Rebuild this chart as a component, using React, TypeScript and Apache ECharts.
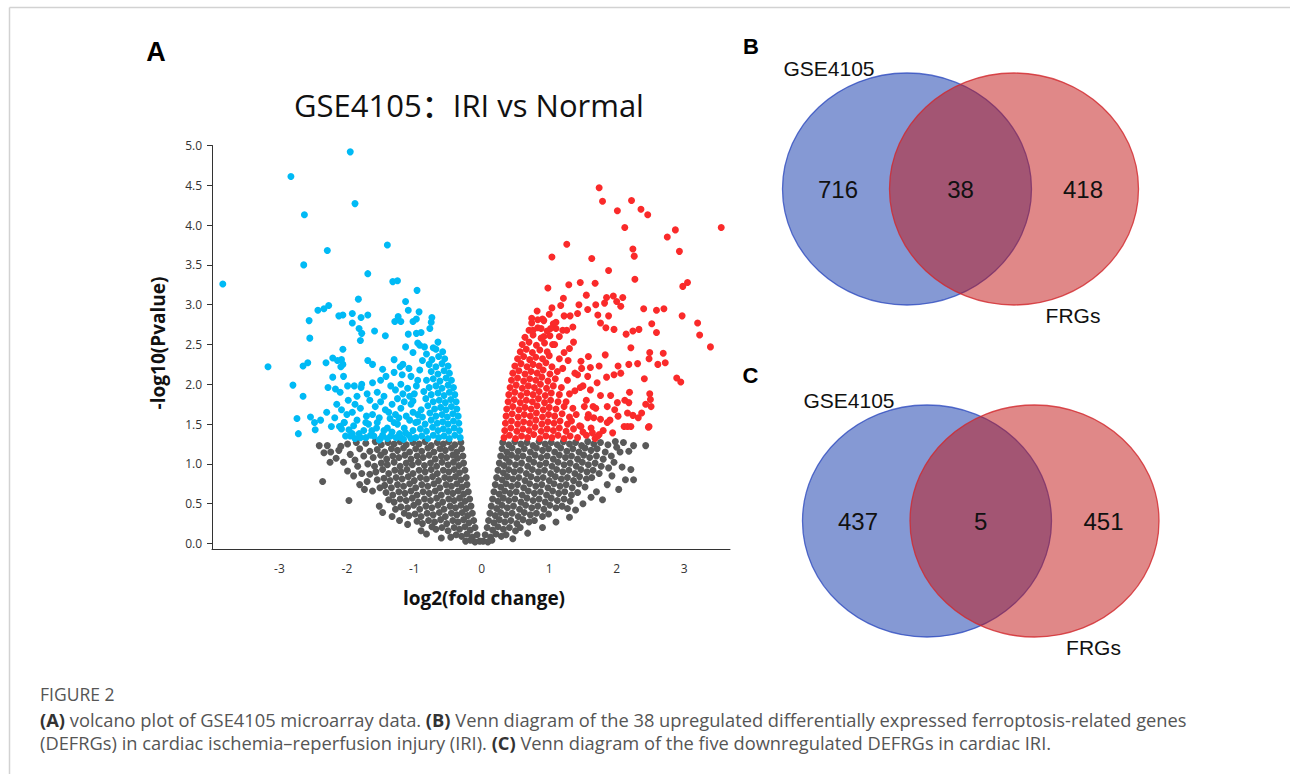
import React, { useEffect, useRef } from "react";
import * as echarts from "echarts";

const xTickValues = [-3, -2, -1, 0, 1, 2, 3];
const yTickValues = [0, 0.5, 1, 1.5, 2, 2.5, 3, 3.5, 4, 4.5, 5];

// not significant (gray)
const grayPoints: number[][] = [
  [-0.31,1.27],[-0.4,1.24],[-0.49,1.28],[-0.57,1.25],[-0.66,1.27],[-0.75,1.23],[-0.84,1.28],[-0.93,1.25],[-1.02,1.27],[-1.12,1.24],[-1.21,1.28],[-1.3,1.25],[-1.39,1.27],[-1.49,1.24],[-1.58,1.28],[-1.72,1.26],[-1.86,1.27],[-1.99,1.25],
  [-0.3,1.19],[-0.37,1.15],[-0.45,1.2],[-0.54,1.17],[-0.62,1.19],[-0.71,1.15],[-0.8,1.2],[-0.89,1.16],[-0.98,1.19],[-1.07,1.15],[-1.16,1.2],[-1.25,1.17],[-1.34,1.19],[-1.44,1.15],[-1.55,1.18],[-1.66,1.16],[-1.81,1.19],
  [-0.28,1.1],[-0.36,1.07],[-0.43,1.11],[-0.52,1.08],[-0.6,1.1],[-0.69,1.06],[-0.78,1.11],[-0.87,1.08],[-0.96,1.1],[-1.05,1.06],[-1.14,1.11],[-1.23,1.08],[-1.32,1.1],[-1.41,1.06],[-1.5,1.11],[-1.61,1.08],[-1.75,1.1],[-1.88,1.05],
  [-0.27,1.01],[-0.34,0.98],[-0.42,1.02],[-0.5,0.99],[-0.59,1.02],[-0.67,0.97],[-0.76,1.01],[-0.85,0.98],[-0.94,1.02],[-1.03,0.99],[-1.12,1.01],[-1.21,0.97],[-1.3,1.02],[-1.4,0.99],[-1.49,1.01],[-1.59,0.97],[-1.69,1.0],
  [-0.25,0.92],[-0.33,0.89],[-0.41,0.93],[-0.49,0.9],[-0.57,0.92],[-0.66,0.88],[-0.75,0.93],[-0.84,0.9],[-0.93,0.92],[-1.02,0.88],[-1.11,0.93],[-1.2,0.9],[-1.29,0.92],[-1.38,0.88],[-1.47,0.93],[-1.57,0.9],[-1.66,0.87],
  [-0.23,0.83],[-0.31,0.8],[-0.39,0.84],[-0.47,0.81],[-0.55,0.83],[-0.64,0.79],[-0.73,0.84],[-0.82,0.81],[-0.91,0.83],[-1.0,0.79],[-1.09,0.84],[-1.18,0.81],[-1.27,0.83],[-1.36,0.79],[-1.45,0.82],[-1.55,0.8],
  [-0.22,0.74],[-0.29,0.71],[-0.37,0.75],[-0.45,0.72],[-0.53,0.74],[-0.62,0.7],[-0.71,0.75],[-0.8,0.72],[-0.89,0.74],[-0.98,0.7],[-1.07,0.75],[-1.16,0.72],[-1.25,0.74],[-1.34,0.7],[-1.44,0.73],[-1.51,0.7],
  [-0.2,0.65],[-0.27,0.62],[-0.35,0.66],[-0.43,0.63],[-0.51,0.65],[-0.6,0.61],[-0.69,0.66],[-0.78,0.63],[-0.87,0.65],[-0.96,0.61],[-1.05,0.66],[-1.14,0.63],[-1.23,0.65],[-1.32,0.61],[-1.42,0.64],
  [-0.18,0.56],[-0.25,0.53],[-0.33,0.57],[-0.41,0.54],[-0.49,0.56],[-0.58,0.52],[-0.67,0.57],[-0.76,0.54],[-0.85,0.56],[-0.94,0.52],[-1.03,0.57],[-1.12,0.54],[-1.21,0.56],[-1.3,0.52],[-1.38,0.55],
  [-0.16,0.47],[-0.23,0.44],[-0.31,0.48],[-0.39,0.45],[-0.47,0.47],[-0.56,0.43],[-0.65,0.48],[-0.74,0.45],[-0.83,0.47],[-0.92,0.43],[-1.01,0.48],[-1.1,0.45],[-1.2,0.46],[-1.28,0.43],
  [-0.14,0.38],[-0.21,0.35],[-0.29,0.39],[-0.37,0.36],[-0.45,0.38],[-0.54,0.34],[-0.63,0.39],[-0.72,0.36],[-0.81,0.38],[-0.9,0.34],[-0.99,0.37],[-1.08,0.35],[-1.15,0.38],
  [-0.12,0.29],[-0.19,0.26],[-0.27,0.3],[-0.35,0.27],[-0.43,0.29],[-0.52,0.25],[-0.61,0.3],[-0.7,0.27],[-0.79,0.29],[-0.88,0.25],[-0.96,0.28],
  [-0.1,0.2],[-0.17,0.17],[-0.25,0.21],[-0.33,0.18],[-0.41,0.2],[-0.5,0.16],[-0.59,0.2],[-0.68,0.18],[-0.74,0.21],
  [-0.07,0.11],[-0.14,0.08],[-0.22,0.12],[-0.3,0.09],[-0.38,0.11],[-0.46,0.08],
  [-0.03,0.03],[-0.1,0.02],[-0.17,0.04],[-0.24,0.03],
  [-2.41,1.23],[-2.29,1.23],[-2.34,1.14],[-2.24,1.15],[-2.09,1.22],[-2.16,1.07],[-2.25,1.02],[-2.05,1.02],[-2.36,0.78],[-1.99,0.91],[-1.9,0.85],[-1.97,0.54],[-1.81,0.74],[-1.52,0.47],[-1.74,0.68],[-2.12,1.17],[-1.95,1.12],[-1.84,0.97],[-1.78,0.88],[-1.7,0.78],[-1.62,0.66],[-1.47,0.39],[-1.33,0.34],[-1.22,0.29],[-1.1,0.24],[-0.9,0.16],[-0.82,0.12],[-0.6,0.07],
  [0.31,1.27],[0.4,1.24],[0.49,1.28],[0.58,1.25],[0.67,1.27],[0.76,1.23],[0.85,1.28],[0.94,1.25],[1.03,1.27],[1.12,1.24],[1.21,1.28],[1.3,1.25],[1.39,1.27],[1.48,1.23],[1.57,1.28],[1.66,1.25],[1.76,1.27],[1.87,1.24],[1.98,1.28],
  [0.3,1.19],[0.37,1.15],[0.45,1.2],[0.54,1.16],[0.63,1.19],[0.72,1.15],[0.81,1.2],[0.9,1.17],[0.99,1.19],[1.08,1.15],[1.17,1.2],[1.26,1.16],[1.35,1.19],[1.44,1.15],[1.53,1.2],[1.62,1.17],[1.71,1.19],[1.83,1.15],
  [0.28,1.1],[0.36,1.07],[0.44,1.11],[0.52,1.08],[0.61,1.1],[0.7,1.06],[0.79,1.11],[0.88,1.08],[0.97,1.1],[1.06,1.06],[1.15,1.11],[1.24,1.08],[1.33,1.1],[1.42,1.06],[1.51,1.11],[1.6,1.08],[1.7,1.1],[1.8,1.06],
  [0.26,1.01],[0.33,0.98],[0.41,1.02],[0.5,0.99],[0.59,1.01],[0.68,0.97],[0.77,1.02],[0.86,0.99],[0.95,1.01],[1.04,0.97],[1.13,1.02],[1.22,0.99],[1.31,1.01],[1.4,0.97],[1.49,1.02],[1.58,0.99],[1.68,1.01],[1.77,0.97],
  [0.24,0.92],[0.32,0.89],[0.4,0.93],[0.48,0.9],[0.57,0.92],[0.66,0.88],[0.75,0.93],[0.84,0.9],[0.93,0.92],[1.02,0.88],[1.11,0.93],[1.2,0.9],[1.29,0.92],[1.38,0.88],[1.47,0.93],[1.56,0.9],[1.65,0.92],[1.74,0.88],
  [0.22,0.83],[0.3,0.8],[0.38,0.84],[0.46,0.81],[0.55,0.83],[0.64,0.79],[0.73,0.84],[0.82,0.81],[0.91,0.83],[1.0,0.79],[1.09,0.84],[1.18,0.81],[1.27,0.83],[1.36,0.79],[1.45,0.84],[1.55,0.81],[1.63,0.83],
  [0.2,0.74],[0.28,0.71],[0.36,0.75],[0.44,0.72],[0.53,0.74],[0.62,0.7],[0.71,0.75],[0.8,0.72],[0.89,0.74],[0.98,0.7],[1.07,0.75],[1.16,0.72],[1.25,0.74],[1.34,0.7],[1.44,0.75],[1.53,0.71],
  [0.18,0.65],[0.26,0.62],[0.34,0.66],[0.42,0.63],[0.51,0.65],[0.6,0.61],[0.69,0.66],[0.78,0.63],[0.87,0.65],[0.96,0.61],[1.05,0.66],[1.14,0.63],[1.23,0.65],[1.33,0.61],[1.42,0.64],
  [0.16,0.56],[0.24,0.53],[0.32,0.57],[0.4,0.54],[0.49,0.56],[0.58,0.52],[0.67,0.57],[0.76,0.54],[0.85,0.56],[0.94,0.52],[1.03,0.57],[1.12,0.54],[1.22,0.56],[1.31,0.53],
  [0.14,0.47],[0.22,0.44],[0.3,0.48],[0.38,0.45],[0.47,0.47],[0.56,0.43],[0.65,0.48],[0.74,0.45],[0.83,0.47],[0.92,0.43],[1.01,0.48],[1.1,0.45],[1.19,0.47],
  [0.12,0.38],[0.2,0.35],[0.28,0.39],[0.36,0.36],[0.45,0.38],[0.54,0.34],[0.63,0.39],[0.72,0.36],[0.81,0.38],[0.9,0.34],[0.99,0.37],
  [0.1,0.29],[0.18,0.26],[0.26,0.3],[0.34,0.27],[0.43,0.29],[0.52,0.25],[0.61,0.3],[0.7,0.27],[0.78,0.29],
  [0.08,0.2],[0.16,0.17],[0.24,0.21],[0.32,0.18],[0.41,0.2],[0.5,0.16],[0.57,0.2],
  [0.05,0.11],[0.13,0.08],[0.21,0.12],[0.29,0.09],[0.36,0.11],
  [0.02,0.03],[0.09,0.02],[0.15,0.04],
  [2.43,1.23],[2.25,1.23],[2.1,1.27],[2.18,1.16],[2.21,0.93],[2.25,0.8],[2.13,0.8],[2.03,0.68],[1.79,0.55],[1.93,0.85],[1.86,0.74],[1.39,0.42],[1.27,0.44],[2.05,1.15],[1.96,1.02],[1.88,0.95],[2.0,1.21],[1.7,0.65],[1.62,0.58],[1.5,0.5],[1.3,0.33],[1.1,0.27],[0.9,0.2],[0.68,0.13],[0.46,0.06],[1.92,1.1],[2.08,0.96]
];

// down-regulated (blue)
const bluePoints: number[][] = [
  [-0.32,1.33],[-0.4,1.36],[-0.48,1.32],[-0.56,1.35],[-0.64,1.33],[-0.72,1.36],[-0.8,1.32],[-0.89,1.35],[-0.98,1.33],[-1.08,1.36],[-1.2,1.33],[-1.35,1.35],[-1.5,1.32],[-1.65,1.36],[-1.8,1.33],[-1.95,1.35],
  [-0.33,1.42],[-0.41,1.45],[-0.49,1.41],[-0.57,1.44],[-0.65,1.42],[-0.73,1.46],[-0.82,1.41],[-0.91,1.44],[-1.02,1.42],
  [-0.34,1.51],[-0.42,1.54],[-0.5,1.5],[-0.58,1.53],[-0.66,1.51],[-0.75,1.55],[-0.84,1.5],[-0.95,1.53],
  [-0.35,1.6],[-0.43,1.63],[-0.51,1.59],[-0.59,1.62],[-0.68,1.6],[-0.77,1.64],[-0.88,1.59],
  [-0.37,1.69],[-0.45,1.72],[-0.53,1.68],[-0.61,1.71],[-0.7,1.69],[-0.8,1.73],[-0.9,1.68],
  [-0.38,1.78],[-0.46,1.81],[-0.54,1.77],[-0.63,1.8],[-0.72,1.78],[-0.83,1.82],
  [-0.4,1.87],[-0.48,1.9],[-0.56,1.86],[-0.65,1.89],[-0.75,1.87],[-0.86,1.91],
  [-0.42,1.96],[-0.5,1.99],[-0.59,1.95],[-0.68,1.98],[-0.78,1.96],
  [-0.45,2.05],[-0.53,2.08],[-0.62,2.04],[-0.72,2.07],[-0.82,2.05],
  [-0.48,2.14],[-0.56,2.17],[-0.65,2.13],[-0.75,2.16],
  [-0.5,2.23],[-0.59,2.26],[-0.68,2.22],[-0.78,2.25],
  [-0.55,2.32],[-0.64,2.35],[-0.74,2.31],
  [-0.58,2.41],[-0.68,2.44],
  [-1.15,1.45],[-1.22,1.38],[-1.3,1.52],[-1.12,1.6],[-1.2,1.7],[-1.05,1.75],[-1.0,1.88],[-1.1,1.95],[-0.95,2.05],[-1.25,1.82],[-1.38,1.65],[-1.45,1.42],[-1.52,1.58],[-1.6,1.35],[-1.68,1.5],[-1.58,1.72],[-1.45,1.85],[-1.35,1.98],[-1.5,2.05],[-1.75,1.42],[-1.85,1.55],[-1.92,1.38],[-1.8,1.7],[-1.7,1.88],[-1.62,2.02],[-2.0,1.62],[-2.04,1.52],[-2.1,1.47],[-2.23,1.47],[-1.98,1.8],[-1.88,1.32],[-1.4,1.32],[-1.28,1.62],[-1.05,1.32],[-0.98,1.52],[-1.18,2.12],[-1.08,2.2],[-1.3,2.15],[-0.92,2.18],[-0.88,2.3],[-0.82,2.38],[-1.02,2.4],[-0.95,2.52],[-1.4,1.45],[-1.15,1.78],[-1.55,1.9],[-1.78,2.0],[-2.15,1.75],[-2.3,1.65],
  [-1.25,1.5],[-1.33,1.4],[-1.07,1.55],[-1.17,1.88],[-1.62,1.62],[-1.72,1.33],[-1.56,1.45],[-1.9,1.48],[-1.92,1.65],[-1.02,1.65],
  [-1.13,1.39],[-1.27,1.33],[-1.36,1.57],[-1.47,1.36],[-1.55,1.52],[-1.63,1.42],[-1.71,1.6],[-1.82,1.38],[-1.97,1.43],[-2.02,1.35],[-1.23,1.58],[-1.33,1.75],[-1.43,1.68],[-1.5,1.78],[-1.66,1.8],[-1.88,1.75],[-2.08,1.68],[-1.07,1.85],[-1.2,2.0],[-1.28,1.93],[-1.42,2.1],[-1.05,2.1],[-0.97,1.98],[-1.72,1.52],[-1.52,1.3],[-2.18,1.58],[-1.85,1.85],[-1.16,1.31],[-1.02,1.79],[-0.95,1.62],
  [-3.84,3.26],[-2.83,4.61],[-1.95,4.92],[-1.88,4.27],[-2.63,4.13],[-2.29,3.68],[-1.4,3.75],[-2.64,3.5],[-1.69,3.39],[-1.32,3.29],[-1.25,3.3],[-0.96,3.18],[-1.83,3.07],[-1.13,3.04],
  [-2.43,2.93],[-2.34,2.95],[-2.27,2.99],[-2.56,2.8],[-2.55,2.58],[-2.12,2.86],[-2.06,2.87],[-1.92,2.89],[-1.92,2.77],[-1.79,2.84],[-1.69,2.87],[-1.82,2.7],[-1.78,2.64],[-1.8,2.55],[-1.59,2.67],[-1.43,2.61],[-1.29,2.79],[-1.24,2.85],[-1.2,2.79],[-1.09,2.93],[-1.02,2.79],[-0.93,2.91],[-0.97,2.82],[-0.77,2.7],[-0.74,2.84],[-0.75,2.78],[-0.9,2.65],[-0.97,2.64],[-1.09,2.63],[-0.65,2.53],[-1.13,2.47],[-0.92,2.49],[-0.85,2.47],[-0.72,2.46],
  [-2.06,2.44],[-2.21,2.33],[-2.14,2.3],[-2.08,2.31],[-2.06,2.25],[-2.31,2.27],[-2.09,2.22],[-2.58,2.27],[-2.65,2.23],[-3.17,2.22],[-1.69,2.3],[-1.62,2.25],[-1.47,2.19],[-1.3,2.31],[-1.21,2.22],[-1.17,2.25],
  [-2.8,1.99],[-2.65,1.85],[-2.74,1.57],[-2.72,1.38],[-2.54,1.59],[-2.48,1.52],[-2.47,1.43],[-2.39,1.55],[-2.28,1.96],[-2.21,2.09],[-2.17,1.94],[-2.1,1.9],[-2.05,2.1],[-1.99,1.98],[-1.89,1.98],[-1.79,1.96],[-2.11,1.47],[-2.08,1.44],[-2.04,1.52]
];

// up-regulated (red)
const redPoints: number[][] = [
  [0.33,1.33],[0.41,1.36],[0.5,1.32],[0.59,1.35],[0.68,1.33],[0.77,1.37],[0.86,1.32],[0.95,1.35],[1.04,1.33],[1.13,1.36],[1.22,1.32],[1.31,1.35],[1.42,1.33],[1.55,1.36],[1.68,1.32],
  [0.34,1.42],[0.43,1.45],[0.52,1.41],[0.61,1.44],[0.7,1.42],[0.79,1.46],[0.88,1.41],[0.97,1.44],[1.06,1.42],[1.15,1.45],[1.25,1.41],[1.36,1.44],
  [0.35,1.51],[0.44,1.54],[0.53,1.5],[0.62,1.53],[0.71,1.51],[0.8,1.55],[0.89,1.5],[0.98,1.53],[1.07,1.51],[1.16,1.54],[1.27,1.5],
  [0.36,1.6],[0.45,1.63],[0.54,1.59],[0.63,1.62],[0.72,1.6],[0.81,1.64],[0.9,1.59],[0.99,1.62],[1.08,1.6],[1.19,1.63],[1.3,1.59],
  [0.37,1.69],[0.46,1.72],[0.55,1.68],[0.64,1.71],[0.73,1.69],[0.82,1.73],[0.91,1.68],[1.0,1.71],[1.1,1.69],[1.22,1.72],
  [0.39,1.78],[0.48,1.81],[0.57,1.77],[0.66,1.8],[0.75,1.78],[0.84,1.82],[0.93,1.77],[1.02,1.8],[1.13,1.78],
  [0.4,1.87],[0.49,1.9],[0.58,1.86],[0.67,1.89],[0.76,1.87],[0.85,1.91],[0.94,1.86],[1.03,1.89],[1.15,1.87],
  [0.42,1.96],[0.51,1.99],[0.6,1.95],[0.69,1.98],[0.78,1.96],[0.87,2.0],[0.96,1.95],[1.06,1.98],
  [0.44,2.05],[0.53,2.08],[0.62,2.04],[0.71,2.07],[0.8,2.05],[0.89,2.09],[0.98,2.04],[1.09,2.07],
  [0.46,2.14],[0.55,2.17],[0.64,2.13],[0.73,2.16],[0.82,2.14],[0.91,2.18],[1.01,2.13],[1.12,2.16],
  [0.49,2.23],[0.58,2.26],[0.67,2.22],[0.76,2.25],[0.85,2.23],[0.95,2.27],[1.04,2.22],
  [0.53,2.32],[0.62,2.35],[0.71,2.31],[0.8,2.34],[0.9,2.32],[1.0,2.36],
  [0.57,2.41],[0.66,2.44],[0.75,2.4],[0.86,2.43],[0.97,2.41],
  [0.6,2.5],[0.7,2.53],[0.81,2.49],[0.93,2.52],[1.05,2.5],
  [0.64,2.59],[0.76,2.62],[0.88,2.58],[1.01,2.61],
  [0.7,2.68],[0.83,2.71],[0.97,2.67],[1.1,2.7],
  [0.74,2.77],[0.92,2.8],[1.06,2.76],
  [1.2,2.2],[1.27,2.05],[1.18,1.96],[1.3,1.88],[1.25,1.78],[1.35,1.7],[1.4,1.62],[1.33,1.54],[1.45,1.48],[1.5,1.4],[1.38,1.92],[1.42,2.12],[1.15,2.32],[1.22,2.4],[1.08,2.5],[1.15,2.6],[1.3,2.45],[1.1,2.78],[1.0,2.88],[0.9,2.82],[0.82,2.92],[1.62,1.45],[1.58,1.62],[1.55,1.8],[1.5,1.98],[1.48,2.2],[1.65,1.72],[1.72,1.35],[1.8,1.42],[1.9,1.55],[1.28,2.3],[1.36,2.53],[1.2,2.68],[1.35,2.72],[1.02,2.7],[0.92,2.6],
  [1.74,4.47],[1.79,4.3],[2.22,4.31],[2.01,4.18],[2.36,4.2],[2.46,4.13],[2.12,3.97],[3.55,3.97],[2.87,3.94],[2.75,3.85],[1.26,3.76],[2.24,3.7],[2.93,3.67],[2.26,3.61],[1.04,3.6],[1.63,3.58],[1.88,3.43],[2.27,3.32],[3.05,3.28],[2.98,3.23],[0.98,3.21],[1.29,3.25],[1.46,3.28],[1.68,3.27],[1.55,3.12],[1.85,3.09],[1.95,3.11],[2.09,3.09],[1.21,3.08],[1.17,2.99],[1.04,2.96],[1.44,3.0],[1.69,3.0],[2.0,3.04],[2.06,2.98],[2.4,2.95],[2.59,2.93],[2.7,2.95],[2.97,2.86],[3.2,2.77],[3.23,2.62],[3.39,2.47],[1.82,3.02],
  [0.74,2.83],[0.83,2.81],[0.76,2.68],[0.88,2.7],[1.22,2.86],[1.31,2.86],[1.26,2.68],[1.42,2.89],[1.57,2.94],[1.72,2.87],[1.88,2.86],[1.76,2.77],[1.84,2.71],[1.96,2.69],[2.14,2.63],[2.24,2.67],[2.33,2.69],[2.52,2.76],[2.59,2.65],
  [2.21,2.46],[2.49,2.4],[2.61,2.25],[2.69,2.39],[2.72,2.27],[2.31,2.26],[2.18,2.25],[2.48,2.32],[2.02,2.23],[1.85,2.09],[2.06,2.14],[1.96,2.12],[2.41,2.07],[2.89,2.08],[2.95,2.03],[2.19,1.9],[2.49,1.88],[2.5,1.81],[2.43,1.75],[2.51,1.72],[2.12,1.8],[2.18,1.77],[2.01,1.77],[1.91,1.86],[1.76,1.86],[1.97,1.68],[2.02,1.6],[2.16,1.64],[2.24,1.61],[2.32,1.58],[2.37,1.64],[2.11,1.47],[2.21,1.47],[2.47,1.46],[1.94,1.39],[1.86,1.52],[1.76,1.56],[1.66,1.58],[1.74,1.37],[1.64,1.39],
  [1.71,2.02],[1.74,2.23],[1.61,2.21],[1.58,2.35],[1.83,2.37],[1.47,2.29],[1.38,2.14],[1.57,2.1],[1.61,1.93],[1.46,1.96],[1.86,1.72],[1.69,1.7],[1.52,1.72],[1.57,1.58],[1.47,1.47],[2.16,1.47],[2.48,1.47]
];

const vennSets = ["GSE4105", "FRGs"];
const vennBCounts = [716, 38, 418];
const vennCCounts = [437, 5, 451];

const BLUE_FILL = "rgba(11,51,169,0.5)";
const RED_FILL = "rgba(193,17,17,0.5)";
const BLUE_STROKE = "rgba(40,70,190,0.75)";
const RED_STROKE = "rgba(210,40,45,0.8)";

function vennGraphics(cxL: number, cxR: number, cy: number, counts: number[], panel: string, panelX: number, panelY: number) {
  const rx = 124.5, ry = 116;
  const base = { fontFamily: "Liberation Sans, Arial, sans-serif", fill: "#111", align: "center", verticalAlign: "middle", textAlign: "center", textVerticalAlign: "middle" };
  const numFont = { ...base, fontSize: 24 };
  const labFont = { ...base, fontSize: 21 };
  return [
    { type: "ellipse", shape: { cx: cxL, cy, rx, ry }, style: { fill: BLUE_FILL, stroke: BLUE_STROKE, lineWidth: 1.3 } },
    { type: "ellipse", shape: { cx: cxR, cy, rx, ry }, style: { fill: RED_FILL, stroke: RED_STROKE, lineWidth: 1.3 } },
    { type: "text", x: cxL - 69, y: cy, style: { ...numFont, text: String(counts[0]) } },
    { type: "text", x: (cxL + cxR) / 2, y: cy, style: { ...numFont, text: String(counts[1]) } },
    { type: "text", x: cxR + 69, y: cy, style: { ...numFont, text: String(counts[2]) } },
    { type: "text", x: cxL - 78, y: cy - 121, style: { ...labFont, text: vennSets[0] } },
    { type: "text", x: cxR + 59, y: cy + 126, style: { ...labFont, text: vennSets[1] } },
    { type: "text", x: panelX, y: panelY, style: { ...base, text: panel, fontSize: 22, fontWeight: "bold", fill: "#000" } },
  ];
}

export default function App() {
  const ref = useRef<HTMLDivElement>(null);
  useEffect(() => {
    if (!ref.current) return;
    const chart = echarts.init(ref.current, undefined, { renderer: "svg" });
    const tickFont = { color: "#333", fontSize: 12, fontFamily: "Open Sans, sans-serif" };
    const capFont = "Open Sans, sans-serif";
    const mid = { align: "center", verticalAlign: "middle", textAlign: "center", textVerticalAlign: "middle" };
    const leftMid = { align: "left", verticalAlign: "middle", textAlign: "left", textVerticalAlign: "middle" };
    const option: any = {
      animation: false,
      backgroundColor: "#ffffff",
      grid: { left: 212, top: 145.5, width: 518, height: 403.5, containLabel: false },
      xAxis: {
        type: "value", min: -4, max: 3.68,
        axisLine: { show: true, onZero: false, lineStyle: { color: "#333", width: 1 } },
        axisTick: { show: false },
        splitLine: { show: false },
        axisLabel: { ...tickFont, margin: 13, customValues: xTickValues, formatter: (v: number) => String(v) },
      },
      yAxis: {
        type: "value", min: -0.069, max: 5,
        axisLine: { show: true, onZero: false, lineStyle: { color: "#333", width: 1 } },
        axisTick: { show: true, length: 5, customValues: yTickValues, lineStyle: { color: "#333" } },
        splitLine: { show: false },
        axisLabel: { ...tickFont, margin: 10, customValues: yTickValues, formatter: (v: number) => v.toFixed(1) },
      },
      series: [
        { type: "scatter", data: grayPoints, symbolSize: 7, itemStyle: { color: "#595959", opacity: 1 }, silent: true },
        { type: "scatter", data: bluePoints, symbolSize: 7, itemStyle: { color: "#00BAF5", opacity: 1 }, silent: true },
        { type: "scatter", data: redPoints, symbolSize: 7, itemStyle: { color: "#FA2A2A", opacity: 1 }, silent: true },
      ],
      graphic: {
        elements: [
          { type: "line", shape: { x1: 9.5, y1: 7.5, x2: 1290, y2: 7.5 }, style: { stroke: "#d2d2d2", lineWidth: 1.5 } },
          { type: "line", shape: { x1: 9.5, y1: 7.5, x2: 9.5, y2: 774 }, style: { stroke: "#d2d2d2", lineWidth: 1.5 } },
          { type: "text", x: 156, y: 52, style: { ...mid, text: "A", fontSize: 27, fontWeight: "bold", fontFamily: "Liberation Sans, Arial, sans-serif", fill: "#000" } },
          { type: "text", x: 469, y: 105, style: { ...mid, text: "GSE4105：IRI vs Normal", fontSize: 31, fontWeight: 500, fontFamily: "Open Sans, Noto Sans CJK SC, sans-serif", fill: "#111" } },
          { type: "text", x: 484, y: 598, style: { ...mid, text: "log2(fold change)", fontSize: 19, fontWeight: "bold", fontFamily: capFont, fill: "#111" } },
          { type: "text", x: 158, y: 343, rotation: Math.PI / 2, style: { ...mid, text: "-log10(Pvalue)", fontSize: 19, fontWeight: "bold", fontFamily: capFont, fill: "#111" } },
          ...vennGraphics(907, 1014, 189, vennBCounts, "B", 751, 46),
          ...vennGraphics(927, 1034.5, 521, vennCCounts, "C", 750.5, 375),
          { type: "text", x: 40, y: 694, style: { ...leftMid, text: "FIGURE 2", fontSize: 17.5, fontWeight: 500, fontFamily: capFont, fill: "#555" } },
          {
            type: "text", x: 40, y: 719,
            style: {
              ...leftMid,
              text: "{b|(A)} volcano plot of GSE4105 microarray data. {b|(B)} Venn diagram of the 38 upregulated differentially expressed ferroptosis-related genes",
              fontSize: 18.3, fontFamily: capFont, fill: "#555",
              rich: { b: { fontSize: 18.3, fontFamily: capFont, fontWeight: "bold", fill: "#333" } },
            },
          },
          {
            type: "text", x: 40, y: 742,
            style: {
              ...leftMid,
              text: "(DEFRGs) in cardiac ischemia–reperfusion injury (IRI). {b|(C)} Venn diagram of the five downregulated DEFRGs in cardiac IRI.",
              fontSize: 18.3, fontFamily: capFont, fill: "#555",
              rich: { b: { fontSize: 18.3, fontFamily: capFont, fontWeight: "bold", fill: "#333" } },
            },
          },
        ],
      },
    };
    chart.setOption(option);
    return () => chart.dispose();
  }, []);
  return <div ref={ref} style={{ position: "absolute", left: 0, top: 0, width: 1290, height: 774 }} />;
}
